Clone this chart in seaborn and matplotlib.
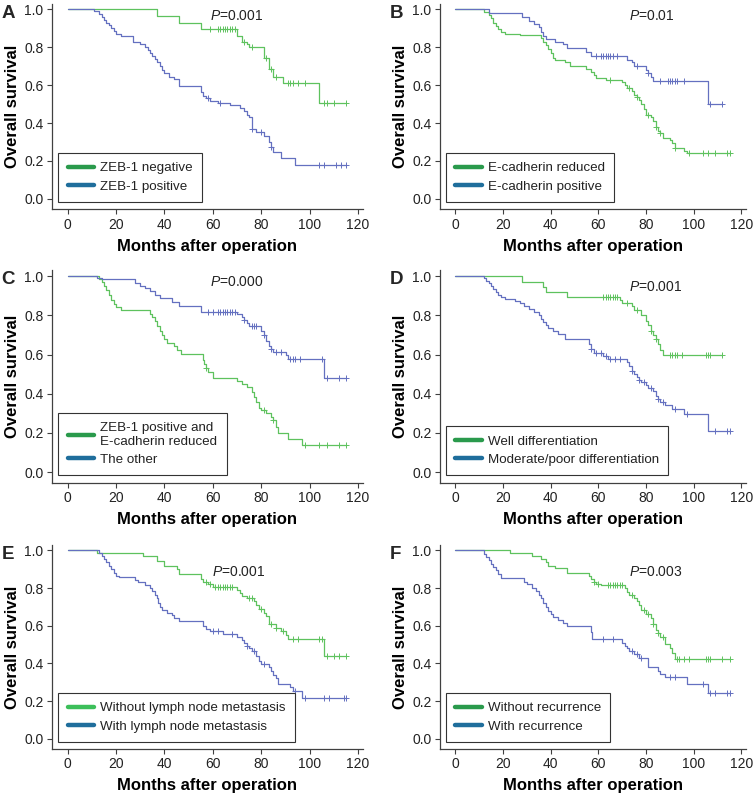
import numpy as np
import pandas as pd
import seaborn as sns
import matplotlib.pyplot as plt
from matplotlib.lines import Line2D

# ==========================================
# 1. DATA
# ==========================================
# each curve: event times, survival after the event, censor times

# A - ZEB-1
a_neg_t = [37, 46, 55, 70, 72, 74, 75, 81, 83, 85, 89, 104]
a_neg_s = [0.965, 0.93, 0.895, 0.86, 0.83, 0.815, 0.80, 0.745, 0.685, 0.645, 0.61, 0.505]
a_neg_c = [59, 62, 63, 64, 65, 66, 67, 68, 69, 73, 76, 82, 84, 86, 91, 92, 93, 95, 98, 106, 107, 110, 115]
a_pos_t = [11, 13, 14, 15, 16, 17, 18, 19, 20, 22, 27, 30, 32, 33, 34, 35, 36, 37, 38, 39, 40, 42, 44, 46,
           55, 56, 57, 59, 62, 67, 71, 73, 74, 75, 76, 78, 81, 83, 84, 85, 88, 94]
a_pos_s = [0.99, 0.975, 0.96, 0.945, 0.93, 0.915, 0.90, 0.885, 0.87, 0.86, 0.83, 0.815, 0.80, 0.785, 0.77,
           0.755, 0.74, 0.72, 0.70, 0.68, 0.665, 0.645, 0.63, 0.595, 0.565, 0.545, 0.53, 0.515, 0.505, 0.495,
           0.48, 0.465, 0.44, 0.43, 0.37, 0.355, 0.33, 0.30, 0.275, 0.245, 0.215, 0.18]
a_pos_c = [58, 63, 76, 80, 84, 104, 106, 111, 113, 115]

# B - E-cadherin
b_red_t = [12, 14, 15, 16, 17, 18, 19, 21, 27, 36, 37, 38, 39, 40, 41, 42, 46, 48, 55, 57, 58, 59, 63, 70,
           71, 72, 74, 75, 76, 77, 78, 79, 80, 82, 83, 84, 85, 86, 87, 90, 91, 92, 96, 97]
b_red_s = [0.985, 0.97, 0.955, 0.93, 0.91, 0.895, 0.88, 0.87, 0.865, 0.85, 0.83, 0.81, 0.79, 0.77, 0.745,
           0.73, 0.72, 0.70, 0.685, 0.67, 0.655, 0.635, 0.625, 0.615, 0.60, 0.585, 0.57, 0.55, 0.54, 0.52,
           0.50, 0.475, 0.445, 0.43, 0.41, 0.38, 0.36, 0.345, 0.32, 0.31, 0.295, 0.27, 0.255, 0.24]
b_red_c = [65, 73, 76, 81, 84, 86, 92, 98, 104, 106, 109, 114, 115]
b_pos_t = [14, 28, 31, 33, 35, 36, 37, 38, 42, 45, 47, 55, 57, 72, 74, 75, 80, 81, 82, 83, 106]
b_pos_s = [0.98, 0.96, 0.94, 0.92, 0.905, 0.88, 0.86, 0.845, 0.83, 0.815, 0.795, 0.775, 0.755, 0.735,
           0.72, 0.70, 0.68, 0.665, 0.645, 0.62, 0.50]
b_pos_c = [59, 61, 62, 63, 64, 65, 66, 68, 76, 81, 86, 89, 90, 91, 92, 93, 96, 107, 112]

# C - combined
c_zr_t = [13, 14, 15, 16, 17, 18, 19, 20, 22, 34, 35, 36, 37, 38, 39, 40, 41, 44, 45, 47, 56, 56.5, 57,
          58, 60, 70, 72, 74, 76, 77, 78, 79, 80, 82, 84, 85, 86, 87, 91, 97]
c_zr_s = [0.985, 0.97, 0.95, 0.93, 0.905, 0.88, 0.86, 0.845, 0.83, 0.81, 0.79, 0.77, 0.745, 0.72, 0.70,
          0.68, 0.66, 0.645, 0.625, 0.605, 0.575, 0.55, 0.53, 0.51, 0.48, 0.465, 0.45, 0.435, 0.41, 0.385,
          0.36, 0.33, 0.315, 0.30, 0.28, 0.265, 0.23, 0.20, 0.17, 0.14]
c_zr_c = [57, 81, 85, 98, 104, 107, 112, 115]
c_ot_t = [12, 14, 28, 30, 32, 34, 36, 38, 43, 46, 55, 70, 72, 73, 74, 75, 80, 81, 82, 83, 84, 85, 90, 91, 106]
c_ot_s = [0.99, 0.985, 0.965, 0.95, 0.94, 0.925, 0.905, 0.89, 0.87, 0.85, 0.82, 0.805, 0.79, 0.775, 0.76,
          0.745, 0.72, 0.70, 0.67, 0.645, 0.63, 0.615, 0.60, 0.58, 0.48]
c_ot_c = [58, 60, 62, 63, 64, 65, 66, 67, 68, 69, 73, 76, 77, 78, 81, 84, 86, 88, 92, 93, 94, 96, 105,
          107, 112, 115]

# D - differentiation
d_well_t = [28, 37, 38, 47, 69, 70, 74, 75, 78, 80, 81, 82, 83, 84, 85, 86, 87]
d_well_s = [0.97, 0.945, 0.92, 0.895, 0.88, 0.865, 0.85, 0.83, 0.80, 0.77, 0.75, 0.72, 0.70, 0.68, 0.655,
            0.625, 0.60]
d_well_c = [62, 63, 64, 65, 66, 67, 68, 72, 76, 82, 84, 90, 91, 92, 93, 95, 105, 106, 107, 112]
d_mod_t = [12, 13, 14, 15, 16, 17, 18, 19, 21, 25, 27, 29, 31, 33, 35, 36, 37, 38, 39, 41, 43, 46, 56, 57,
           58, 62, 64, 72, 73, 74, 75, 76, 77, 78, 80, 81, 83, 84, 85, 86, 88, 91, 96, 106]
d_mod_s = [0.99, 0.975, 0.965, 0.95, 0.935, 0.92, 0.905, 0.895, 0.885, 0.875, 0.865, 0.85, 0.835, 0.82,
           0.80, 0.78, 0.765, 0.75, 0.735, 0.72, 0.705, 0.68, 0.655, 0.63, 0.61, 0.595, 0.58, 0.56, 0.54,
           0.515, 0.50, 0.485, 0.47, 0.46, 0.445, 0.43, 0.415, 0.39, 0.375, 0.36, 0.345, 0.32, 0.295, 0.21]
d_mod_c = [57, 59, 61, 63, 65, 67, 69, 74, 77, 79, 82, 85, 87, 92, 97, 109, 114, 115]

# E - lymph node metastasis
e_wo_t = [12, 31, 37, 40, 45, 46, 55, 56, 58, 60, 70, 71, 72, 74, 77, 78, 79, 81, 82, 83, 86, 88, 90, 91, 106]
e_wo_s = [0.985, 0.97, 0.945, 0.92, 0.90, 0.875, 0.85, 0.83, 0.82, 0.805, 0.79, 0.775, 0.76, 0.745, 0.73,
          0.71, 0.69, 0.67, 0.65, 0.61, 0.59, 0.57, 0.55, 0.53, 0.44]
e_wo_c = [57, 59, 61, 62, 63, 64, 65, 66, 67, 68, 75, 76, 80, 84, 86, 89, 93, 95, 104, 105, 107, 110,
          112, 115]
e_w_t = [13, 14, 15, 16, 17, 18, 19, 20, 21, 28, 29, 32, 34, 35, 36, 37, 37.5, 38, 39, 41, 43, 44, 46, 56,
         57, 59, 64, 70, 72, 73, 74, 75, 76, 78, 79, 80, 83, 84, 85, 86, 87, 92, 93, 97]
e_w_s = [0.985, 0.97, 0.955, 0.94, 0.92, 0.90, 0.88, 0.865, 0.86, 0.845, 0.83, 0.815, 0.80, 0.785, 0.765,
         0.745, 0.72, 0.70, 0.685, 0.67, 0.655, 0.64, 0.625, 0.60, 0.585, 0.57, 0.555, 0.54, 0.525, 0.51,
         0.495, 0.48, 0.465, 0.44, 0.415, 0.395, 0.38, 0.36, 0.34, 0.32, 0.29, 0.275, 0.255, 0.215]
e_w_c = [60, 62, 68, 74, 77, 81, 94, 98, 106, 108, 114, 115]

# F - recurrence
f_wo_t = [23, 32, 36, 38, 39, 42, 47, 56, 57, 58, 59, 61, 63, 71, 72, 73, 75, 76, 77, 78, 80, 82, 83, 84,
          85, 86, 88, 90, 91, 92]
f_wo_s = [0.985, 0.97, 0.955, 0.94, 0.92, 0.905, 0.88, 0.865, 0.85, 0.835, 0.82, 0.815, 0.815, 0.80, 0.78,
          0.765, 0.75, 0.73, 0.71, 0.685, 0.66, 0.64, 0.61, 0.58, 0.56, 0.54, 0.505, 0.48, 0.455, 0.425]
f_wo_c = [58, 60, 64, 65, 66, 67, 68, 69, 70, 74, 79, 81, 83, 85, 87, 93, 94, 96, 98, 105, 106, 107, 112, 115]
f_w_t = [12, 13, 14, 15, 16, 17, 18, 19, 29, 30, 32, 34, 35, 36, 37, 38, 39, 40, 41, 43, 45, 47, 57, 57.5,
         70, 71, 72, 73, 75, 77, 81, 85, 86, 88, 97, 106]
f_w_s = [0.98, 0.965, 0.95, 0.93, 0.91, 0.895, 0.875, 0.855, 0.835, 0.82, 0.80, 0.785, 0.765, 0.745, 0.72,
         0.70, 0.68, 0.66, 0.645, 0.63, 0.615, 0.60, 0.565, 0.53, 0.51, 0.495, 0.48, 0.465, 0.45, 0.43,
         0.38, 0.36, 0.345, 0.33, 0.29, 0.245]
f_w_c = [62, 66, 74, 76, 78, 90, 92, 104, 107, 109, 114, 115]

panel_letters = ['A', 'B', 'C', 'D', 'E', 'F']
p_values = ['0.001', '0.01', '0.000', '0.001', '0.001', '0.003']
legend_labels = [
    ['ZEB-1 negative', 'ZEB-1 positive'],
    ['E-cadherin reduced', 'E-cadherin positive'],
    ['ZEB-1 positive and\nE-cadherin reduced', 'The other'],
    ['Well differentiation', 'Moderate/poor differentiation'],
    ['Without lymph node metastasis', 'With lymph node metastasis'],
    ['Without recurrence', 'With recurrence'],
]
# (green curve, blue curve) for each panel
curves = [
    ((a_neg_t, a_neg_s, a_neg_c), (a_pos_t, a_pos_s, a_pos_c)),
    ((b_red_t, b_red_s, b_red_c), (b_pos_t, b_pos_s, b_pos_c)),
    ((c_zr_t, c_zr_s, c_zr_c), (c_ot_t, c_ot_s, c_ot_c)),
    ((d_well_t, d_well_s, d_well_c), (d_mod_t, d_mod_s, d_mod_c)),
    ((e_wo_t, e_wo_s, e_wo_c), (e_w_t, e_w_s, e_w_c)),
    ((f_wo_t, f_wo_s, f_wo_c), (f_w_t, f_w_s, f_w_c)),
]

# ==========================================
# 2. STYLE
# ==========================================
sns.set_style('ticks')
plt.rcParams['font.family'] = ['Liberation Sans', 'DejaVu Sans']
plt.rcParams['mathtext.fontset'] = 'custom'
plt.rcParams['mathtext.it'] = 'Liberation Sans:italic'
plt.rcParams['mathtext.rm'] = 'Liberation Sans'

GREEN_LINE = '#5ec25e'
BLUE_LINE = '#6470c0'
GREEN_LEG = ['#2a9a4c', '#2a9a4c', '#2a9a4c', '#2a9a4c', '#3cbf5a', '#2a9a4c']
BLUE_LEG = '#1f6e9c'
SPINE = '#404040'
TXT = '#222222'

# text x-position (months) and y of the P value label
p_pos = [(59, 0.965), (72.8, 0.965), (59, 0.97), (72.8, 0.947), (59.7, 0.883), (72.8, 0.883)]

fig = plt.figure(figsize=(7.53, 7.93), dpi=100)

# axes rectangles [left, bottom, width, height] in figure fractions
col_left = [0.069, 0.584]
col_width = [0.413, 0.407]
row_bottom = [0.736, 0.391, 0.0554]
row_height = [0.2595, 0.268, 0.2576]


def km_frame(t, s, c):
    tt = np.concatenate([[0.0], np.asarray(t, float)])
    ss = np.concatenate([[1.0], np.asarray(s, float)])
    end = max(max(c), tt[-1])
    tt = np.append(tt, end)
    ss = np.append(ss, ss[-1])
    line = pd.DataFrame({'month': tt, 'surv': ss})
    idx = np.searchsorted(tt[:-1], np.asarray(c, float), side='right') - 1
    cens = pd.DataFrame({'month': np.asarray(c, float), 'surv': ss[idx]})
    return line, cens


for i in range(6):
    r, col = divmod(i, 2)
    ax = fig.add_axes([col_left[col], row_bottom[r], col_width[col], row_height[r]])

    for (t, s, c), color in zip(curves[i], [GREEN_LINE, BLUE_LINE]):
        line, cens = km_frame(t, s, c)
        sns.lineplot(data=line, x='month', y='surv', ax=ax, color=color, lw=0.9,
                     drawstyle='steps-post', estimator=None, sort=False)
        sns.scatterplot(data=cens, x='month', y='surv', ax=ax, color=color, marker='+',
                        s=14, linewidth=0.7)

    ax.set_xlim(-6.5, 122)
    ax.set_ylim(-0.055, 1.03)
    ax.set_xticks(range(0, 121, 20))
    ax.set_yticks(np.arange(0, 1.01, 0.2))
    ax.set_yticklabels([f'{v:.1f}' for v in np.arange(0, 1.01, 0.2)])
    ax.tick_params(labelsize=10, length=3.5, width=0.8, color=SPINE, labelcolor=TXT, pad=2.5)
    sns.despine(ax=ax)
    for sp in ['left', 'bottom']:
        ax.spines[sp].set_color(SPINE)
        ax.spines[sp].set_linewidth(0.9)

    ax.set_xlabel('Months after operation', fontsize=12, fontweight='bold', labelpad=5, color='black')
    ax.set_ylabel('Overall survival', fontsize=12, fontweight='bold', labelpad=3, color='black')

    px, py = p_pos[i]
    ax.text(px, py, r'$P$=' + p_values[i], fontsize=10, va='center', ha='left', color=TXT)

    handles = [Line2D([0], [0], color=GREEN_LEG[i], lw=3.2),
               Line2D([0], [0], color=BLUE_LEG, lw=3.2)]
    leg = ax.legend(handles, legend_labels[i], loc='lower left', bbox_to_anchor=(0.02, 0.035),
                    borderaxespad=0, fontsize=9.6, frameon=True, fancybox=False, framealpha=1,
                    handlelength=2.0, borderpad=0.7, labelspacing=0.45, handletextpad=0.45)
    leg.get_frame().set_edgecolor('#333333')
    leg.get_frame().set_linewidth(0.8)
    for txt in leg.get_texts():
        txt.set_color(TXT)

    bbox = ax.get_position()
    fig.text(bbox.x0 - 0.067, bbox.y1 - 0.012, panel_letters[i], fontsize=13.5,
             fontweight='bold', va='center', ha='left')

fig.savefig('out.png', dpi=100)
